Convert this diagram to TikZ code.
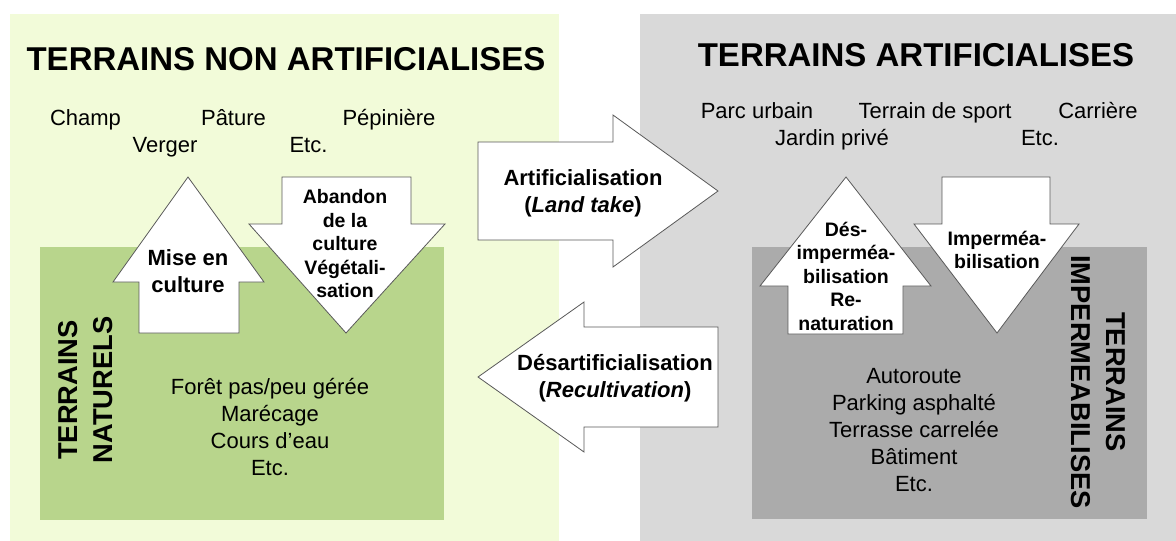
\documentclass[tikz,border=0pt]{standalone}
\usepackage{fontspec}
\setmainfont{Liberation Sans}
\definecolor{vertclair}{HTML}{F2FBD9}
\definecolor{vertfonce}{HTML}{B8D58C}
\definecolor{grisclair}{HTML}{D9D9D9}
\definecolor{grisfonce}{HTML}{ABABAB}
\tikzset{
  fleche/.style={fill=white,draw=black!65,line width=0.8pt},
  titre/.style={font=\fontsize{33}{36}\selectfont\bfseries,anchor=base},
  liste/.style={font=\fontsize{22}{27}\selectfont,align=center},
  gras/.style={font=\fontsize{22}{27}\selectfont\bfseries,align=center},
  petitgras/.style={font=\fontsize{19.5}{23.5}\selectfont\bfseries,align=center},
  vertical/.style={font=\fontsize{27.3}{35}\selectfont\bfseries,align=center}
}
\begin{document}
\begin{tikzpicture}[x=1pt,y=-1pt]
\useasboundingbox (0,0) rectangle (1176,541);
\fill[vertclair] (10,14) rectangle (559,541);
\fill[grisclair] (640,14) rectangle (1176,541);
\fill[vertfonce] (40,247) rectangle (444,520);
\fill[grisfonce] (752,247) rectangle (1147,519);
\node[titre] (titrenon) at (286,70) {TERRAINS NON ARTIFICIALISES};
\node[titre] (titreart) at (916,66) {TERRAINS ARTIFICIALISES};
\node[liste,anchor=base] (champ) at (85.5,125) {Champ};
\node[liste,anchor=base] (pature) at (233.5,125) {Pâture};
\node[liste,anchor=base] (pepiniere) at (389,125) {Pépinière};
\node[liste,anchor=base] (verger) at (165,152) {Verger};
\node[liste,anchor=base] (etcnon) at (308.5,152) {Etc.};
\node[liste,anchor=base] (parc) at (757,118) {Parc urbain};
\node[liste,anchor=base] (sport) at (935,118) {Terrain de sport};
\node[liste,anchor=base] (carriere) at (1098,118) {Carrière};
\node[liste,anchor=base] (jardin) at (832,145) {Jardin privé};
\node[liste,anchor=base] (etcart) at (1040,145) {Etc.};
\filldraw[fleche] (139,333) -- (139,282) -- (113,282) -- (188,177) -- (264,282) -- (239,282) -- (239,333) -- cycle;
\filldraw[fleche] (282,177) -- (411,177) -- (411,224) -- (445,224) -- (346,333) -- (249,224) -- (282,224) -- cycle;
\filldraw[fleche] (478,142) -- (613,142) -- (613,115) -- (718,191) -- (613,267) -- (613,240) -- (478,240) -- cycle;
\filldraw[fleche] (718,327) -- (584,327) -- (584,302) -- (478,377) -- (584,452) -- (584,427) -- (718,427) -- cycle;
\filldraw[fleche] (788,334) -- (788,286) -- (760,286) -- (846,177) -- (931,286) -- (903,286) -- (903,334) -- cycle;
\filldraw[fleche] (942,177) -- (1050,177) -- (1050,224) -- (1079,224) -- (997,333) -- (914,224) -- (942,224) -- cycle;
\node[gras] (miseculture) at (188,271) {Mise en\\culture};
\node[petitgras] (abandon) at (345,244) {Abandon\\de la\\culture\\Végétali-\\sation};
\node[gras] (artif) at (583,193) {Artificialisation\\(\textit{Land take})};
\node[gras] (desartif) at (615,378) {Désartificialisation\\(\textit{Recultivation})};
\node[petitgras] (desimper) at (846,276) {Dés-\\imperméa-\\bilisation\\Re-\\naturation};
\node[petitgras] (imper) at (997,250) {Imperméa-\\bilisation};
\node[vertical,rotate=90] (naturels) at (86,390) {TERRAINS\\NATURELS};
\node[vertical,rotate=-90] (impermeab) at (1098,382) {TERRAINS\\IMPERMEABILISES};
\node[liste] (listenat) at (270,427) {Forêt pas/peu gérée\\Marécage\\Cours d’eau\\Etc.};
\node[liste] (listeimp) at (914,430) {Autoroute\\Parking asphalté\\Terrasse carrelée\\Bâtiment\\Etc.};
\end{tikzpicture}
\end{document}
